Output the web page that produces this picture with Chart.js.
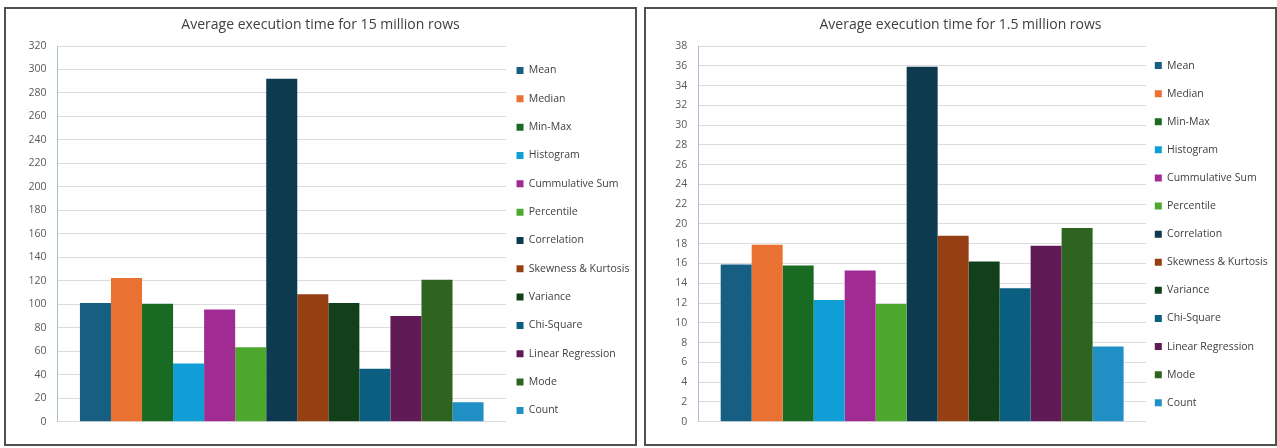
<!DOCTYPE html>
<html>
<head>
<meta charset="utf-8">
<script src="https://cdn.jsdelivr.net/npm/chart.js@4.4.1/dist/chart.umd.min.js"></script>
<style>
    body { margin: 0; background: #fff; width: 1277px; height: 448px; position: relative; overflow: hidden; }
    .box { position: absolute; top: 7px; width: 629px; height: 435px; border: 2px solid #505050; background: #fff; }
    #box-big { left: 4px; }
    #box-small { left: 644px; }
    canvas { display: block; }
</style>
</head>
<body>
<div class="box" id="box-big"><canvas id="chart-big" width="629" height="435"></canvas></div>
<div class="box" id="box-small"><canvas id="chart-small" width="629" height="435"></canvas></div>
<script>
const operations = ['Mean', 'Median', 'Min-Max', 'Histogram', 'Cummulative Sum', 'Percentile', 'Correlation',
    'Skewness & Kurtosis', 'Variance', 'Chi-Square', 'Linear Regression', 'Mode', 'Count'];
const times15M = [101, 122.5, 100.5, 49.5, 95.5, 63.5, 292, 108.5, 101, 45, 90, 121, 16.5];
const times1_5M = [15.9, 17.9, 15.8, 12.3, 15.3, 11.9, 35.9, 18.8, 16.2, 13.5, 17.8, 19.6, 7.6];
const axis15M = { max: 320, step: 20 };
const axis1_5M = { max: 38, step: 2 };

const colors = ['#175f82', '#e97132', '#196b24', '#0f9ed5', '#a02b93', '#4ea72e', '#0e3a4f',
    '#963f12', '#11401a', '#0a5e80', '#601a55', '#2f6420', '#2090c4'];

const FONT = "'Open Sans', sans-serif";

function makeChart(id, title, values, axis, layout) {
    const ctx = document.getElementById(id).getContext('2d');

    // move the legend a little so it sits where Excel puts it
    // (right edge stays put so long labels are not clipped)
    const nudge = {
        id: 'nudge',
        afterLayout(chart) {
            const lg = chart.legend;
            lg.left += layout.dx;
            lg.top += layout.dy;
            lg.bottom += layout.dy;
        }
    };

    new Chart(ctx, {
        type: 'bar',
        data: {
            labels: [''],
            datasets: operations.map((name, i) => ({
                label: name,
                data: [values[i]],
                backgroundColor: colors[i],
                borderWidth: 0
            }))
        },
        options: {
            responsive: false,
            animation: false,
            categoryPercentage: 0.9,
            barPercentage: 1.0,
            layout: { padding: { left: 0, right: 0, top: 0, bottom: 22.3 } },
            scales: {
                x: { display: false },
                y: {
                    min: 0,
                    max: axis.max,
                    afterFit: (scale) => { scale.width = layout.axisX; },
                    ticks: {
                        stepSize: axis.step,
                        padding: 11,
                        color: '#595959',
                        font: { family: FONT, size: 10.5 }
                    },
                    grid: { color: '#dcdcdc', drawTicks: false },
                    border: { color: '#a9bfd2', width: 1 }
                }
            },
            plugins: {
                title: {
                    display: true,
                    text: title,
                    color: '#404040',
                    font: { family: FONT, size: 14, weight: 'normal' },
                    padding: { top: 7.6, bottom: 12.6 }
                },
                legend: {
                    position: 'right',
                    align: 'start',
                    maxWidth: 129,
                    labels: {
                        boxWidth: 7,
                        boxHeight: 7,
                        padding: layout.spacing - 10.5,
                        color: '#404040',
                        font: { family: FONT, size: 10.5 }
                    }
                },
                tooltip: { enabled: false }
            }
        },
        plugins: [nudge]
    });
}

makeChart('chart-big', 'Average execution time for 15 million rows', times15M, axis15M,
    { axisX: 51.5, spacing: 28.33, dx: -7.3, dy: 38.4 });
makeChart('chart-small', 'Average execution time for 1.5 million rows', times1_5M, axis1_5M,
    { axisX: 52.3, spacing: 28.1, dx: -8.8, dy: 33.7 });
</script>
</body>
</html>
